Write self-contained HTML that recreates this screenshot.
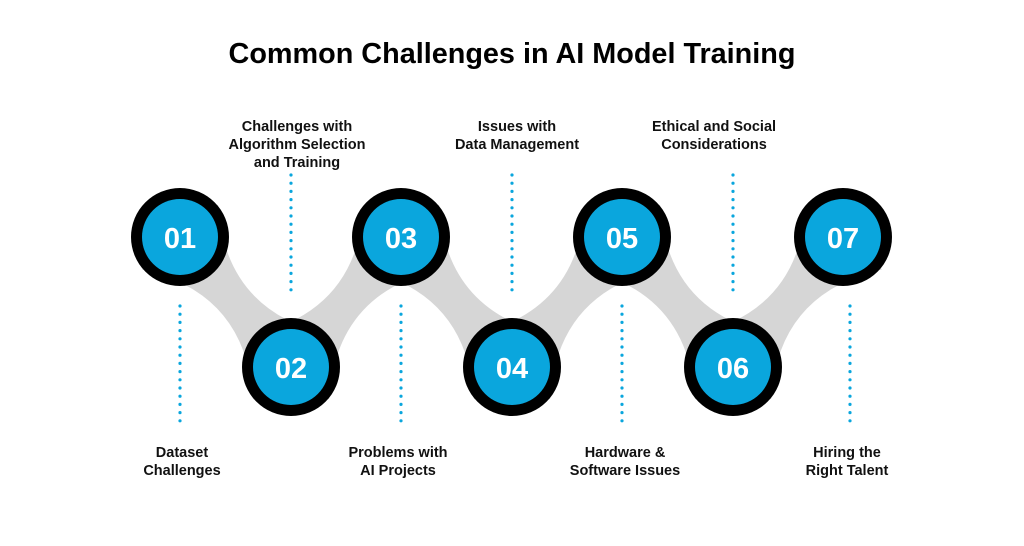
<!DOCTYPE html>
<html><head><style>
body{margin:0;background:#fff}
svg{display:block}
text{font-family:"Liberation Sans",Arial,sans-serif;font-weight:bold}
</style></head><body>
<svg width="1024" height="546" viewBox="0 0 1024 546">
<text x="512" y="63" font-size="28.8" text-anchor="middle" fill="#000">Common Challenges in AI Model Training</text>
<g fill="#d6d6d6">
<path d="M0,-50 Q85.5,14 171,-50 L171,50 Q85.5,-14 0,50 Z" transform="translate(180,237) rotate(49.5)"/>
<path d="M0,-50 Q85.5,14 171,-50 L171,50 Q85.5,-14 0,50 Z" transform="translate(291,367) rotate(-49.5)"/>
<path d="M0,-50 Q85.5,14 171,-50 L171,50 Q85.5,-14 0,50 Z" transform="translate(401,237) rotate(49.5)"/>
<path d="M0,-50 Q85.5,14 171,-50 L171,50 Q85.5,-14 0,50 Z" transform="translate(512,367) rotate(-49.5)"/>
<path d="M0,-50 Q85.5,14 171,-50 L171,50 Q85.5,-14 0,50 Z" transform="translate(622,237) rotate(49.5)"/>
<path d="M0,-50 Q85.5,14 171,-50 L171,50 Q85.5,-14 0,50 Z" transform="translate(733,367) rotate(-49.5)"/>
</g>
<g stroke="#0aa6dd" stroke-width="3.2" stroke-linecap="round" stroke-dasharray="0 8.2">
<line x1="291" y1="175" x2="291" y2="297"/>
<line x1="512" y1="175" x2="512" y2="297"/>
<line x1="733" y1="175" x2="733" y2="297"/>
<line x1="180" y1="306" x2="180" y2="428"/>
<line x1="401" y1="306" x2="401" y2="428"/>
<line x1="622" y1="306" x2="622" y2="428"/>
<line x1="850" y1="306" x2="850" y2="428"/>
</g>
<g>
<circle cx="180" cy="237" r="49"/><circle cx="180" cy="237" r="38" fill="#0aa6dd"/>
<circle cx="291" cy="367" r="49"/><circle cx="291" cy="367" r="38" fill="#0aa6dd"/>
<circle cx="401" cy="237" r="49"/><circle cx="401" cy="237" r="38" fill="#0aa6dd"/>
<circle cx="512" cy="367" r="49"/><circle cx="512" cy="367" r="38" fill="#0aa6dd"/>
<circle cx="622" cy="237" r="49"/><circle cx="622" cy="237" r="38" fill="#0aa6dd"/>
<circle cx="733" cy="367" r="49"/><circle cx="733" cy="367" r="38" fill="#0aa6dd"/>
<circle cx="843" cy="237" r="49"/><circle cx="843" cy="237" r="38" fill="#0aa6dd"/>
</g>
<g fill="#fff" font-size="29" text-anchor="middle">
<text x="180" y="248">01</text>
<text x="291" y="378">02</text>
<text x="401" y="248">03</text>
<text x="512" y="378">04</text>
<text x="622" y="248">05</text>
<text x="733" y="378">06</text>
<text x="843" y="248">07</text>
</g>
<g fill="#111" font-size="14.5" text-anchor="middle">
<text x="297" y="131">Challenges with</text>
<text x="297" y="149">Algorithm Selection</text>
<text x="297" y="167">and Training</text>
<text x="517" y="131">Issues with</text>
<text x="517" y="149">Data Management</text>
<text x="714" y="131">Ethical and Social</text>
<text x="714" y="149">Considerations</text>
<text x="182" y="457">Dataset</text>
<text x="182" y="475">Challenges</text>
<text x="398" y="457">Problems with</text>
<text x="398" y="475">AI Projects</text>
<text x="625" y="457">Hardware &amp;</text>
<text x="625" y="475">Software Issues</text>
<text x="847" y="457">Hiring the</text>
<text x="847" y="475">Right Talent</text>
</g>
</svg>
</body></html>
